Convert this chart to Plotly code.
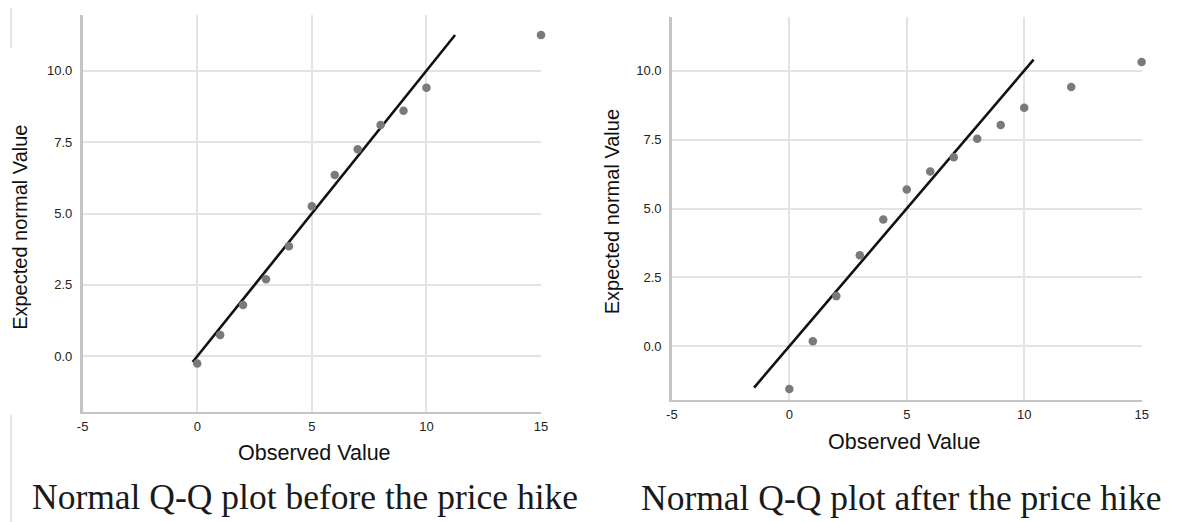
import plotly.graph_objects as go

# ---- data ----
before_observed = [0, 1, 2, 3, 4, 5, 6, 7, 8, 9, 10, 15]
before_expected = [-0.25, 0.75, 1.8, 2.7, 3.85, 5.25, 6.35, 7.25, 8.1, 8.6, 9.4, 11.25]
before_line_x = [-0.2, 11.25]
before_line_y = [-0.2, 11.25]

after_observed = [0, 1, 2, 3, 4, 5, 6, 7, 8, 9, 10, 12, 15]
after_expected = [-1.55, 0.18, 1.82, 3.3, 4.6, 5.69, 6.34, 6.86, 7.53, 8.03, 8.66, 9.41, 10.32]
after_line_x = [-1.5, 10.4]
after_line_y = [-1.5, 10.4]

x_ticks = [-5, 0, 5, 10, 15]
x_ticklabels = ["-5", "0", "5", "10", "15"]
y_ticks = [0, 2.5, 5, 7.5, 10]
y_ticklabels = ["0.0", "2.5", "5.0", "7.5", "10.0"]

x_title = "Observed Value"
y_title = "Expected normal Value"
captions = ["Normal Q-Q plot before the price hike", "Normal Q-Q plot after the price hike"]

W, H = 1180, 522
MARKER = "#7a7a7a"
GRID = "#e3e3e3"
AXIS = "#c4c4c4"
SANS = '"Liberation Sans", Arial, sans-serif'
SERIF = '"Liberation Serif", "Times New Roman", serif'

fig = go.Figure()

fig.add_trace(go.Scatter(x=before_line_x, y=before_line_y, mode="lines",
                         line=dict(color="#111111", width=2.6), xaxis="x", yaxis="y",
                         showlegend=False, hoverinfo="skip"))
fig.add_trace(go.Scatter(x=before_observed, y=before_expected, mode="markers",
                         marker=dict(color=MARKER, size=8.5), xaxis="x", yaxis="y",
                         showlegend=False, cliponaxis=False))
fig.add_trace(go.Scatter(x=after_line_x, y=after_line_y, mode="lines",
                         line=dict(color="#111111", width=2.6), xaxis="x2", yaxis="y2",
                         showlegend=False, hoverinfo="skip"))
fig.add_trace(go.Scatter(x=after_observed, y=after_expected, mode="markers",
                         marker=dict(color=MARKER, size=8.5), xaxis="x2", yaxis="y2",
                         showlegend=False, cliponaxis=False))


def xax(domain, anchor, tl):
    return dict(domain=domain, anchor=anchor, range=[-5, 15], tickmode="array",
                tickvals=x_ticks, ticktext=x_ticklabels, showgrid=True, gridcolor=GRID,
                gridwidth=1.5, zeroline=False, showline=True, linecolor=AXIS, linewidth=2,
                ticks="outside", ticklen=tl, tickcolor="rgba(0,0,0,0)",
                tickfont=dict(family=SANS, size=13, color="#222222"), fixedrange=True)


def yax(domain, anchor):
    return dict(domain=domain, anchor=anchor, range=[-1.95, 11.95], tickmode="array",
                tickvals=y_ticks, ticktext=y_ticklabels, showgrid=True, gridcolor=GRID,
                gridwidth=1.5, zeroline=False, showline=True, linecolor=AXIS, linewidth=2.5,
                ticks="outside", ticklen=5, tickcolor="rgba(0,0,0,0)",
                tickfont=dict(family=SANS, size=13, color="#222222"), fixedrange=True)


fig.update_layout(
    width=W, height=H,
    margin=dict(l=0, r=0, t=0, b=0),
    paper_bgcolor="white", plot_bgcolor="white",
    xaxis=xax([77.5 / W, 541 / W], "y", 1),
    yaxis=yax([(H - 412) / H, (H - 15) / H], "x"),
    xaxis2=xax([673.3 / W, 1148.3 / W], "y2", 1),
    yaxis2=yax([(H - 400) / H, (H - 17) / H], "x2"),
)

ann = []
# axis titles
for cx, cy in [(312, 453), (909, 442)]:
    ann.append(dict(text=x_title, x=cx / W, y=1 - cy / H, xref="paper", yref="paper",
                    xanchor="center", yanchor="middle", showarrow=False,
                    font=dict(family=SANS, size=21.5, color="#111111")))
for cx, cy in [(14, 227), (613, 212)]:
    ann.append(dict(text=y_title, x=cx / W, y=1 - cy / H, xref="paper", yref="paper",
                    xanchor="center", yanchor="middle", showarrow=False, textangle=-90,
                    font=dict(family=SANS, size=20, color="#111111")))
# captions
for (cx, cy), txt in zip([(302, 497), (905, 498)], captions):
    ann.append(dict(text=txt, x=cx / W, y=1 - cy / H, xref="paper", yref="paper",
                    xanchor="center", yanchor="middle", showarrow=False,
                    font=dict(family=SERIF, size=35.5, color="#1a1a1a")))
fig.update_layout(annotations=ann)

# faint scan-border artifacts at the left edge
fig.add_shape(type="line", xref="paper", yref="paper", x0=5 / W, x1=5 / W,
              y0=1 - 8 / H, y1=1 - 48 / H, line=dict(color="#e4e4e4", width=2))
fig.add_shape(type="line", xref="paper", yref="paper", x0=5 / W, x1=5 / W,
              y0=1 - 415 / H, y1=0, line=dict(color="#e4e4e4", width=2))

fig.write_html("out.html", config={"displayModeBar": False},
               post_script="document.body.style.margin='0';document.body.style.overflow='hidden';")
